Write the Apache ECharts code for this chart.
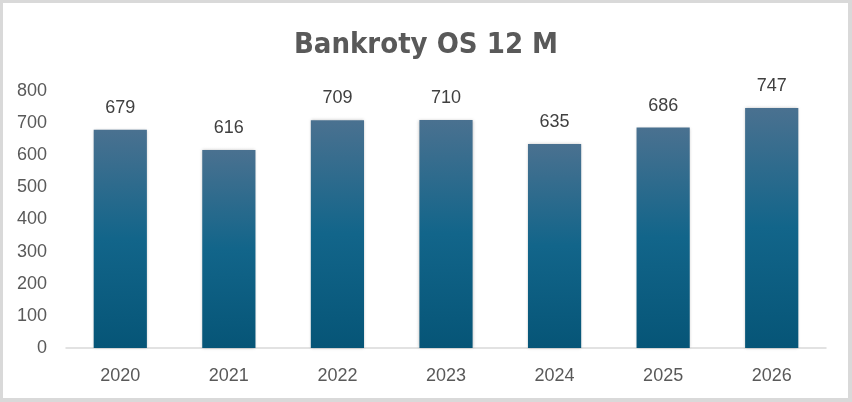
<!DOCTYPE html>
<html>
<head>
<meta charset="utf-8">
<script src="https://cdn.jsdelivr.net/npm/echarts@6/dist/echarts.min.js"></script>
<style>
html,body{margin:0;padding:0;background:#fff;}
#wrap{position:absolute;left:0;top:0;width:852px;height:402px;box-sizing:border-box;border:3px solid #d9d9d9;border-right-width:4px;border-bottom-width:4px;}
#c{position:absolute;left:0;top:0;width:852px;height:402px;}
</style>
</head>
<body>
<div id="c"></div>
<div id="wrap"></div>
<script>
var titleText = 'Bankroty OS 12 M';
var categories = ['2020','2021','2022','2023','2024','2025','2026'];
var values = [679, 616, 709, 710, 635, 686, 747];
var yTicks = {min: 0, max: 800, interval: 100};

var chart = echarts.init(document.getElementById('c'), null, {renderer: 'canvas'});
chart.setOption({
  animation: false,
  backgroundColor: '#ffffff',
  title: {
    text: titleText,
    left: 'center',
    top: 26,
    textStyle: {fontFamily: '"DejaVu Sans Condensed", "DejaVu Sans", sans-serif', fontWeight: 'bold', fontSize: 29, color: '#595959'}
  },
  grid: {left: 66, right: 26, top: 91, bottom: 54, containLabel: false},
  xAxis: {
    type: 'category',
    data: categories,
    axisLine: {show: true, lineStyle: {color: '#d9d9d9', width: 1.5}},
    axisTick: {show: false},
    axisLabel: {margin: 19, fontFamily: 'Liberation Sans', fontSize: 18, color: '#595959'}
  },
  yAxis: {
    type: 'value',
    min: yTicks.min, max: yTicks.max, interval: yTicks.interval,
    axisLine: {show: false},
    axisTick: {show: false},
    splitLine: {show: false},
    axisLabel: {margin: 19, fontFamily: 'Liberation Sans', fontSize: 18, color: '#595959'}
  },
  series: [{
    type: 'bar',
    data: values,
    barWidth: '49%',
    itemStyle: {
      color: new echarts.graphic.LinearGradient(0, 0, 0, 1, [
        {offset: 0, color: '#4a7190'},
        {offset: 0.5, color: '#12658a'},
        {offset: 1, color: '#065577'}
      ], false),
      shadowColor: 'rgba(0,0,0,0.25)',
      shadowBlur: 3,
      shadowOffsetX: 0,
      shadowOffsetY: 0
    },
    label: {
      show: true,
      position: 'top',
      distance: 13,
      fontFamily: 'Liberation Sans',
      fontSize: 18,
      color: '#404040'
    }
  }]
});
</script>
</body>
</html>
